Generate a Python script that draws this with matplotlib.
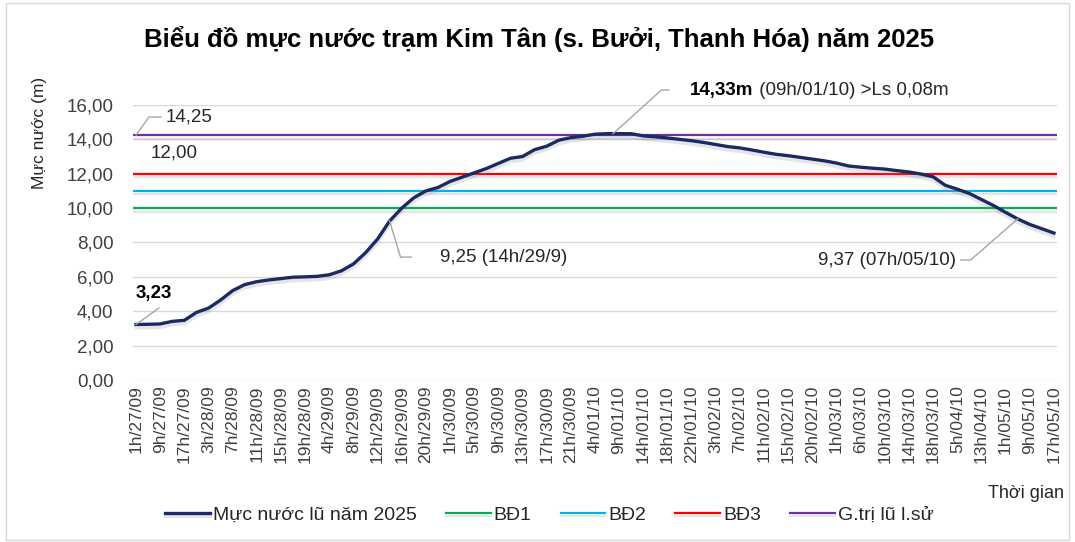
import matplotlib.pyplot as plt
import matplotlib.patheffects as pe
from matplotlib.patches import Rectangle
import numpy as np

plt.rcParams['font.family'] = ['Liberation Sans', 'DejaVu Sans']

title = 'Biểu đồ mực nước trạm Kim Tân (s. Bưởi, Thanh Hóa) năm 2025'

# category labels shown on the time axis (one every two data points)
time_labels = [
    '1h/27/09', '9h/27/09', '17h/27/09', '3h/28/09', '7h/28/09', '11h/28/09',
    '15h/28/09', '19h/28/09', '4h/29/09', '8h/29/09', '12h/29/09', '16h/29/09',
    '20h/29/09', '1h/30/09', '5h/30/09', '9h/30/09', '13h/30/09', '17h/30/09',
    '21h/30/09', '4h/01/10', '9h/01/10', '14h/01/10', '18h/01/10', '22h/01/10',
    '3h/02/10', '7h/02/10', '11h/02/10', '15h/02/10', '20h/02/10', '1h/03/10',
    '6h/03/10', '10h/03/10', '14h/03/10', '18h/03/10', '5h/04/10', '13h/04/10',
    '1h/05/10', '9h/05/10', '17h/05/10',
]

# water level (m)
levels = [
    3.23, 3.24, 3.26, 3.41, 3.47, 3.93, 4.18, 4.65, 5.20, 5.55,
    5.72, 5.82, 5.90, 5.98, 6.00, 6.03, 6.12, 6.35, 6.75, 7.40,
    8.20, 9.25, 10.00, 10.60, 11.00, 11.20, 11.55, 11.80, 12.05, 12.30,
    12.60, 12.90, 13.00, 13.40, 13.60, 13.95, 14.10, 14.18, 14.30, 14.33,
    14.33, 14.33, 14.20, 14.15, 14.08, 14.00, 13.92, 13.82, 13.70, 13.58,
    13.50, 13.38, 13.25, 13.13, 13.05, 12.95, 12.85, 12.75, 12.62, 12.45,
    12.38, 12.32, 12.27, 12.18, 12.10, 11.98, 11.82, 11.33, 11.10, 10.85,
    10.50, 10.15, 9.75, 9.37, 9.05, 8.80, 8.55,
]

thresholds = ['BĐ1', 'BĐ2', 'BĐ3', 'G.trị lũ l.sử']
threshold_values = [10.0, 11.0, 12.0, 14.25]
threshold_colors = ['#00b050', '#00b0f0', '#ff0000', '#7030a0']

series_name = 'Mực nước lũ năm 2025'
series_color = '#1b2a63'
lead = '#a6a6a6'

#----

fig = plt.figure(figsize=(10.75, 5.42), dpi=100)
fig.patches.append(Rectangle((0.006, 0.004), 0.988, 0.99, transform=fig.transFigure,
                             fill=False, edgecolor='#d9d9d9', lw=1))
ax = fig.add_axes([0.1237, 0.2989, 0.8595, 0.5074])

x = np.arange(len(levels))
shadow = [pe.SimpleLineShadow(offset=(0, -2.5), shadow_color='#808080', alpha=0.2),
          pe.Normal()]

handles = []
for name, val, col in zip(thresholds, threshold_values, threshold_colors):
    h, = ax.plot([x[0] - 0.25, x[-1] + 0.25], [val, val], color=col, lw=1.6,
                 path_effects=shadow, label=name, zorder=2)
    handles.append(h)

h_main, = ax.plot(x, levels, color=series_color, lw=2.4, path_effects=shadow,
                  label=series_name, zorder=3)
handles.insert(0, h_main)

ax.set_xlim(x[0] - 0.25, x[-1] + 0.25)
ax.set_ylim(0, 16)
ax.set_yticks(np.arange(0, 17, 2))
ax.set_yticklabels([f'{v:.2f}'.replace('.', ',') for v in np.arange(0, 17, 2)],
                   fontsize=13.5, color='#404040')
ax.set_xticks(x[::2])
ax.set_xticklabels(time_labels, rotation=90, fontsize=12.5, color='#404040')
ax.tick_params(length=0, pad=4)
ax.tick_params(axis='y', pad=14)
ax.grid(axis='y', color='#d9d9d9', lw=1)
ax.set_axisbelow(True)
for s in ax.spines.values():
    s.set_visible(False)

# annotations
def leader(pts):
    xs, ys = zip(*pts)
    ax.plot(xs, ys, color=lead, lw=1, clip_on=False, zorder=4)

top = threshold_values[-1]
leader([(0, top), (1.08, 15.3), (2.07, 15.3)])
ax.text(2.48, 15.3, '14,25', fontsize=13.5, va='center', color='#262626')
ax.text(1.24, 13.2, '12,00', fontsize=13.5, va='center', color='#262626')

leader([(0, levels[0]), (1.9, 4.19)])
ax.text(0, 5.06, '3,23', fontsize=13.5, fontweight='bold', va='center', color='black')

ipk = int(np.argmax(levels))
leader([(ipk + 0.5, levels[ipk]), (43.5, 16.87), (44.1, 16.87)])
t1 = ax.text(45.9, 16.87, '14,33m', fontsize=13.5, fontweight='bold', va='center')
ax.annotate(' (09h/01/10) >Ls 0,08m', xy=(1, 0.5), xycoords=t1, fontsize=13.5,
            va='center', ha='left', color='#262626')

leader([(21, levels[21]), (21.9, 7.15), (22.8, 7.15)])
ax.text(25.2, 7.15, '9,25 (14h/29/9)', fontsize=13.5, va='center', color='#262626')

leader([(73, levels[73]), (69.1, 6.98), (68.3, 6.98)])
ax.text(67.9, 6.98, '9,37 (07h/05/10)', fontsize=13.5, va='center', ha='right',
        color='#262626')

fig.text(0.501, 0.928, title, fontsize=18.5, fontweight='bold', ha='center', va='center')
fig.text(0.037, 0.755, 'Mực nước (m)', fontsize=12.5, rotation=90, ha='center',
         va='center', color='#262626')
fig.text(0.99, 0.09, 'Thời gian', fontsize=13, ha='right', va='center', color='#262626')

fig.legend(handles=handles, loc='center', bbox_to_anchor=(0.511, 0.05), ncol=5,
           frameon=False, fontsize=14, handlelength=2.3, handletextpad=0.15,
           columnspacing=1.5, labelcolor='#262626')

plt.savefig('out.png', dpi=100)
plt.close()
